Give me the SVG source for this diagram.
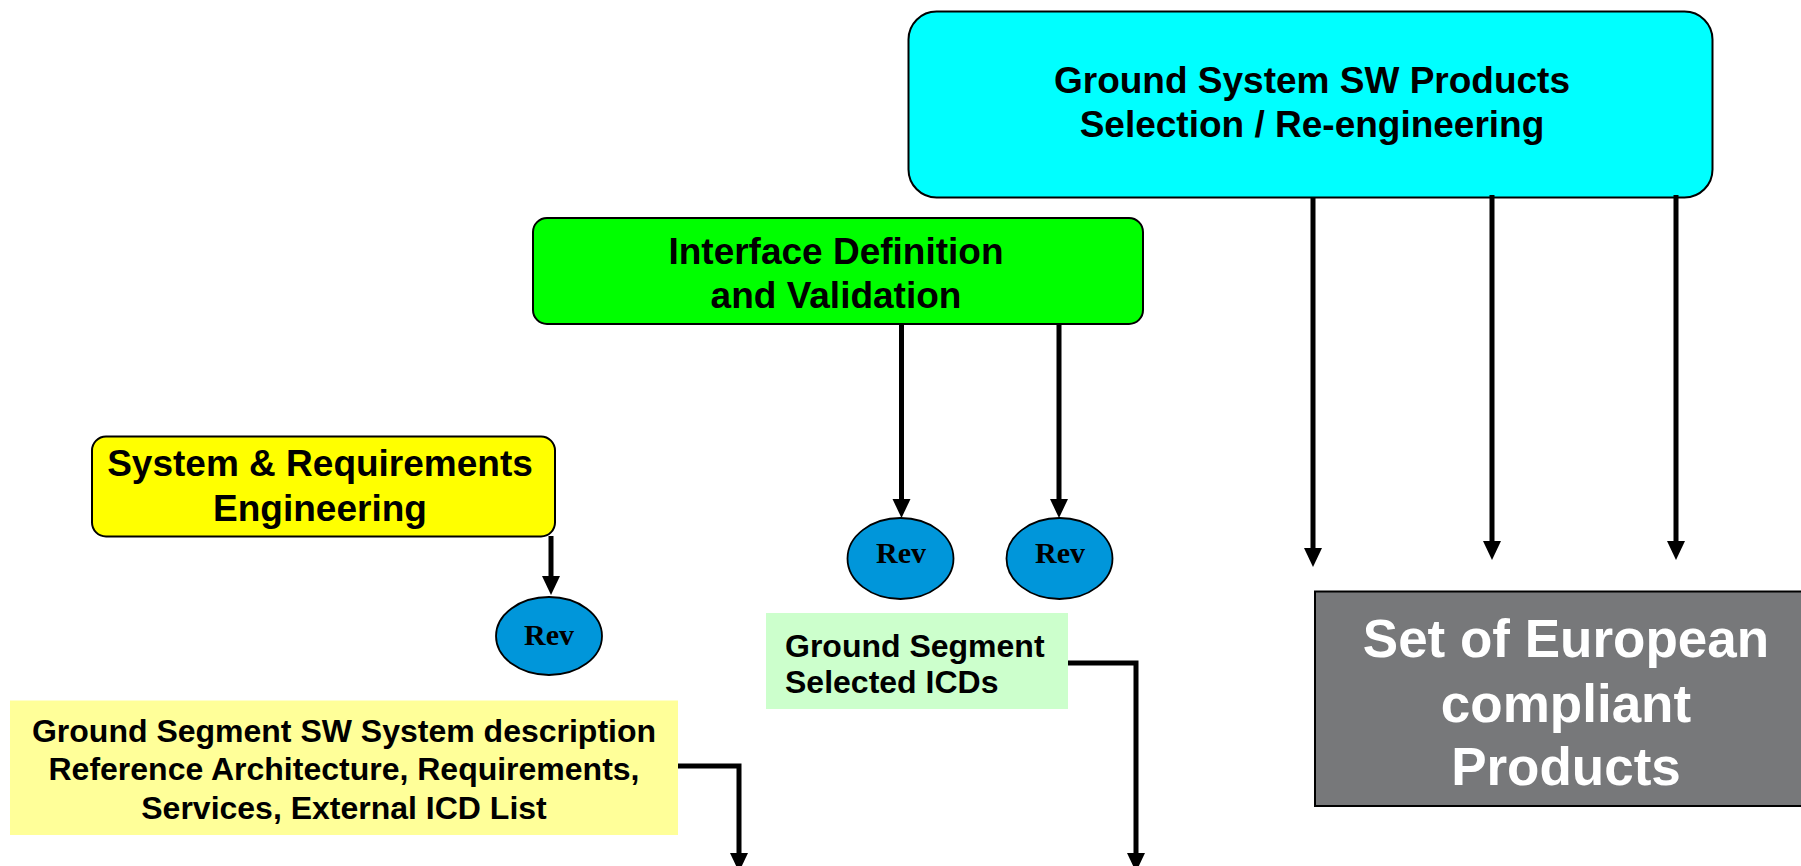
<svg xmlns="http://www.w3.org/2000/svg" width="1801" height="866" viewBox="0 0 1801 866">
  <defs>
    <marker id="arrow" markerUnits="userSpaceOnUse" markerWidth="20" markerHeight="20" refX="4" refY="9" orient="auto">
      <path d="M0,0 L19,9 L0,18 Z" fill="#000"/>
    </marker>
    <style>
      .lbl { font-family: "Liberation Sans", Arial, sans-serif; font-weight: bold; fill: #000; text-anchor: middle; }
      .big { font-size: 37px; }
      .mid { font-size: 32px; }
      .left { text-anchor: start; }
      .white { font-size: 53px; fill: #fff; }
      .rev { font-family: "Liberation Serif", "Times New Roman", serif; font-weight: bold; font-size: 30px; fill: #000; text-anchor: middle; }
      .oval { fill: #0096DA; stroke: #000; stroke-width: 1.8; }
      .conn { fill: none; stroke: #000; stroke-width: 5; marker-end: url(#arrow); }
    </style>
  </defs>
  <rect width="1801" height="866" fill="#fff"/>

  <!-- Ground system products box -->
  <g id="gs-products">
    <rect x="908.5" y="11.5" width="804" height="186" rx="28" fill="#00FFFF" stroke="#000" stroke-width="2"/>
    <text class="lbl big" x="1312" y="93">Ground System SW Products</text>
    <text class="lbl big" x="1312" y="137">Selection / Re-engineering</text>
  </g>

  <!-- Interface definition box -->
  <g id="interface-def">
    <rect x="533" y="218" width="610" height="106" rx="14" fill="#00FF00" stroke="#000" stroke-width="2"/>
    <text class="lbl big" x="836" y="264">Interface Definition</text>
    <text class="lbl big" x="836" y="308">and Validation</text>
  </g>

  <!-- System and requirements engineering box -->
  <g id="sys-req">
    <rect x="92" y="436.5" width="463" height="100" rx="14" fill="#FFFF00" stroke="#000" stroke-width="2"/>
    <text class="lbl big" x="320" y="476">System &amp; Requirements</text>
    <text class="lbl big" x="320" y="521">Engineering</text>
  </g>

  <!-- Review milestones -->
  <g id="rev-1">
    <ellipse class="oval" cx="549" cy="636" rx="53" ry="39"/>
    <text class="rev" x="549" y="645">Rev</text>
  </g>
  <g id="rev-2">
    <ellipse class="oval" cx="900.5" cy="558.5" rx="53" ry="40.5"/>
    <text class="rev" x="901" y="563">Rev</text>
  </g>
  <g id="rev-3">
    <ellipse class="oval" cx="1059.5" cy="558.5" rx="53" ry="40.5"/>
    <text class="rev" x="1060" y="563">Rev</text>
  </g>

  <!-- System description output -->
  <g id="sys-desc">
    <rect x="10" y="700.5" width="668" height="134.5" fill="#FFFF99"/>
    <text class="lbl mid" x="344" y="742">Ground Segment SW System description</text>
    <text class="lbl mid" x="344" y="780">Reference Architecture, Requirements,</text>
    <text class="lbl mid" x="344" y="819">Services, External ICD List</text>
  </g>

  <!-- Selected ICDs output -->
  <g id="icds">
    <rect x="766" y="613" width="302" height="96" fill="#CCFFCC"/>
    <text class="lbl mid left" x="785" y="657">Ground Segment</text>
    <text class="lbl mid left" x="785" y="693">Selected ICDs</text>
  </g>

  <!-- European products output -->
  <g id="eu-products">
    <rect x="1315" y="591.5" width="500" height="214.5" fill="#77787A" stroke="#000" stroke-width="2"/>
    <text class="lbl white" x="1566" y="657">Set of European</text>
    <text class="lbl white" x="1566" y="722">compliant</text>
    <text class="lbl white" x="1566" y="785">Products</text>
  </g>

  <!-- Connectors -->
  <g id="connectors">
    <path class="conn" d="M551,536 V580"/>
    <path class="conn" d="M901.5,324 V503"/>
    <path class="conn" d="M1059,324 V503"/>
    <path class="conn" d="M1313,197 V552"/>
    <path class="conn" d="M1492,195 V545"/>
    <path class="conn" d="M1676,195 V545"/>
    <path class="conn" d="M678,766 H739 V857"/>
    <path class="conn" d="M1068,663 H1136 V857"/>
  </g>
</svg>
